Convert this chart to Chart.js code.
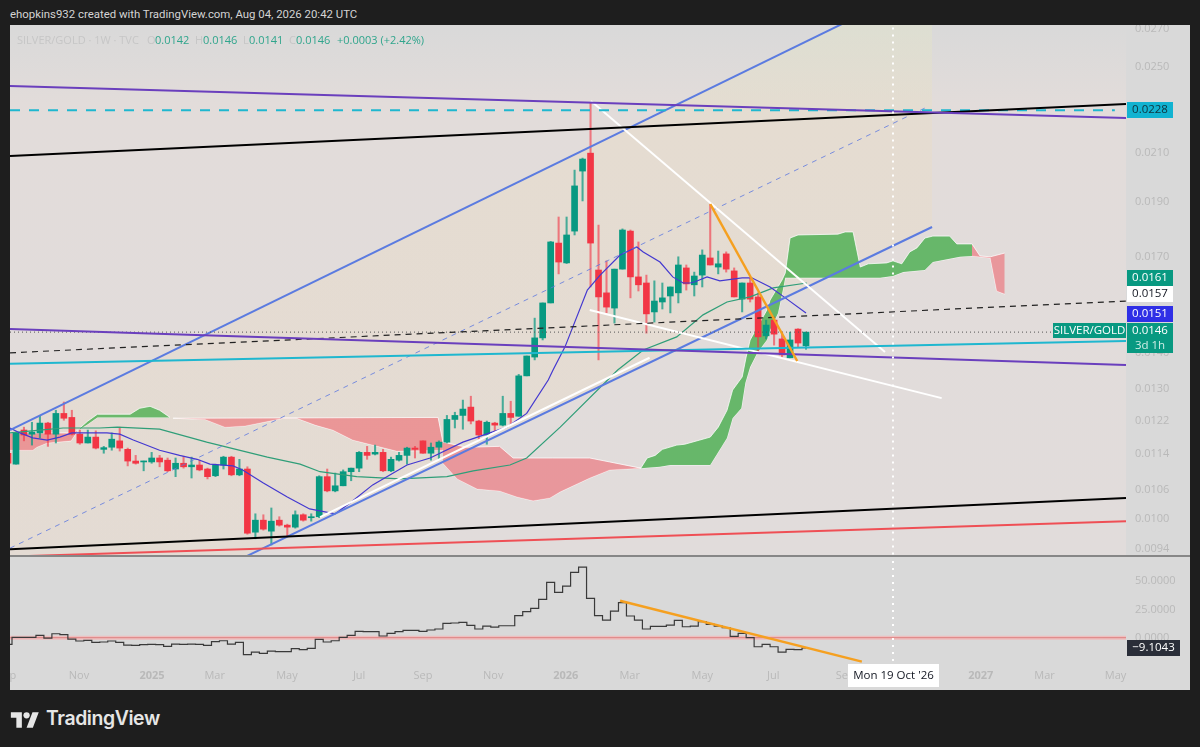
<!DOCTYPE html>
<html><head><meta charset="utf-8"><title>SILVER/GOLD</title>
<script src="https://cdn.jsdelivr.net/npm/chart.js@4"></script>
<style>
html,body{margin:0;padding:0;background:#1e1e1e;width:1200px;height:747px;overflow:hidden;font-family:"Open Sans",sans-serif}
#main{position:absolute;left:10px;top:25px;width:1180px;height:530px}
#pane{position:absolute;left:10px;top:557px;width:1180px;height:133px}
#sep{position:absolute;left:10px;top:555px;width:1180px;height:2px;background:#878787}
#head{position:absolute;left:10px;top:7px;font-size:11.4px;color:#d4d4d4;white-space:nowrap;font-family:Roboto,sans-serif}
.lg{position:absolute;top:32px;font-size:11px;white-space:nowrap;color:#c6c6c6}
.lg.v{color:#2fa58c}
#logo{position:absolute;left:10px;top:709px}
#brand{position:absolute;left:46px;top:706px;font-size:19.4px;font-weight:600;color:#e6e6e6;font-family:Inter,sans-serif;letter-spacing:-.4px}
</style></head><body>
<canvas id="main" width="1180" height="530"></canvas>
<div id="sep"></div>
<canvas id="pane" width="1180" height="133"></canvas>
<div id="head">ehopkins932 created with TradingView.com, Aug 04, 2026 20:42 UTC</div>
<span class="lg" style="left:17px">SILVER/GOLD · 1W · TVC</span>
<span class="lg" style="left:147px">O</span><span class="lg v" style="left:155px">0.0142</span>
<span class="lg" style="left:195px">H</span><span class="lg v" style="left:203px">0.0146</span>
<span class="lg" style="left:243px">L</span><span class="lg v" style="left:249px">0.0141</span>
<span class="lg" style="left:289px">C</span><span class="lg v" style="left:296px">0.0146</span>
<span class="lg v" style="left:337px">+0.0003 (+2.42%)</span>
<svg id="logo" width="30" height="22" viewBox="0 0 36 28"><path fill="#e6e6e6" d="M14 24H7V11H0V4h14zM28 24h-8l7.5-20h8z"/><circle cx="20" cy="8" r="4" fill="#e6e6e6"/></svg>
<div id="brand">TradingView</div>
<script>
// ---------- weekly candles, first entry is week -1 ----------
const opens=[0.01142,0.01117,0.01197,0.01187,0.01190,0.01214,0.01187,0.01238,0.01228,0.01187,0.01166,0.01180,0.01151,0.01156,0.01171,0.01151,0.01124,0.01122,0.01122,0.01131,0.01126,0.01106,0.01119,0.01111,0.01115,0.01106,0.01091,0.01115,0.01133,0.01093,0.01106,0.00973,0.00997,0.00975,0.00997,0.00987,0.00983,0.01008,0.01002,0.01004,0.01089,0.01058,0.01069,0.01100,0.01108,0.01144,0.01140,0.01144,0.01102,0.01126,0.01137,0.01154,0.01171,0.01142,0.01156,0.01168,0.01223,0.01233,0.01254,0.01219,0.01185,0.01214,0.01209,0.01238,0.01231,0.01336,0.01388,0.01443,0.01549,0.01749,0.01680,0.01792,0.02024,0.02099,0.01656,0.01581,0.01533,0.01659,0.01792,0.01633,0.01613,0.01521,0.01552,0.01571,0.01581,0.01663,0.01607,0.01639,0.01697,0.01666,0.01711,0.01653,0.01561,0.01613,0.01568,0.01449,0.01496,0.01440,0.01386,0.01469,0.01420];
const highs=[0.01145,0.01192,0.01204,0.01216,0.01233,0.01216,0.01246,0.01267,0.01246,0.01197,0.01197,0.01195,0.01158,0.01190,0.01204,0.01154,0.01137,0.01124,0.01144,0.01137,0.01131,0.01131,0.01135,0.01133,0.01126,0.01108,0.01117,0.01135,0.01135,0.01128,0.01111,0.01010,0.01008,0.01022,0.01004,0.00989,0.01016,0.01010,0.01010,0.01091,0.01106,0.01097,0.01104,0.01108,0.01146,0.01158,0.01161,0.01151,0.01133,0.01144,0.01156,0.01158,0.01171,0.01166,0.01171,0.01233,0.01241,0.01272,0.01282,0.01221,0.01219,0.01216,0.01282,0.01269,0.01340,0.01391,0.01502,0.01549,0.01755,0.01844,0.01844,0.02028,0.02078,0.02327,0.01814,0.01687,0.01659,0.01800,0.01796,0.01753,0.01639,0.01620,0.01613,0.01600,0.01701,0.01673,0.01649,0.01725,0.01893,0.01721,0.01718,0.01663,0.01613,0.01630,0.01581,0.01496,0.01505,0.01460,0.01460,0.01470,0.01460];
const lows=[0.01117,0.01117,0.01171,0.01161,0.01178,0.01158,0.01166,0.01221,0.01185,0.01163,0.01166,0.01152,0.01142,0.01149,0.01147,0.01113,0.01117,0.01102,0.01119,0.01111,0.01100,0.01089,0.01108,0.01086,0.01102,0.01084,0.01089,0.01106,0.01091,0.01091,0.00969,0.00960,0.00977,0.00948,0.00985,0.00964,0.00981,0.00995,0.00995,0.01002,0.01056,0.01056,0.01069,0.01080,0.01100,0.01128,0.01138,0.01100,0.01100,0.01124,0.01117,0.01131,0.01142,0.01126,0.01128,0.01166,0.01202,0.01199,0.01212,0.01175,0.01163,0.01195,0.01207,0.01212,0.01231,0.01336,0.01380,0.01437,0.01549,0.01643,0.01678,0.01778,0.01905,0.01600,0.01380,0.01518,0.01487,0.01659,0.01565,0.01587,0.01457,0.01490,0.01530,0.01518,0.01549,0.01590,0.01571,0.01600,0.01673,0.01643,0.01649,0.01568,0.01521,0.01552,0.01400,0.01440,0.01422,0.01388,0.01386,0.01417,0.01410];
const closes=[0.01119,0.01190,0.01185,0.01192,0.01214,0.01187,0.01238,0.01226,0.01187,0.01166,0.01180,0.01154,0.01155,0.01175,0.01154,0.01124,0.01119,0.01124,0.01131,0.01122,0.01102,0.01119,0.01111,0.01115,0.01104,0.01089,0.01115,0.01133,0.01093,0.01106,0.00971,0.00997,0.00979,0.00995,0.00987,0.00983,0.01008,0.00997,0.01004,0.01089,0.01058,0.01069,0.01100,0.01108,0.01144,0.01137,0.01144,0.01102,0.01128,0.01137,0.01154,0.01151,0.01142,0.01156,0.01168,0.01223,0.01233,0.01249,0.01219,0.01185,0.01216,0.01209,0.01238,0.01228,0.01336,0.01391,0.01443,0.01549,0.01753,0.01683,0.01778,0.01964,0.02074,0.01749,0.01568,0.01536,0.01659,0.01796,0.01633,0.01607,0.01515,0.01555,0.01565,0.01600,0.01673,0.01610,0.01636,0.01707,0.01673,0.01677,0.01659,0.01568,0.01613,0.01561,0.01446,0.01481,0.01454,0.01394,0.01437,0.01428,0.01460];
const momentum=[-5.9,0.3,0.3,0.3,2.1,-0.3,3.5,2.7,-1.2,-2.9,-2.4,-4.1,-3.8,-2.9,-4.1,-6.5,-6.8,-6.2,-5.9,-6.2,-7.7,-5.6,-5.9,-5.6,-5.9,-6.8,-3.5,-2.7,-5.6,-4.1,-15,-12.7,-13.9,-11.8,-12.4,-12.4,-9.7,-10.6,-9.4,-1.5,-3.8,-2.7,0.3,2.1,5.6,5.3,5.3,1.5,3.8,5.3,6.5,6.5,5.6,6.8,7.7,12.7,13,13.6,10.9,7.7,10.3,9.4,10.6,10.6,19.5,23,26,33.9,49,40.1,45.7,57.8,62.5,34.8,19.5,15.6,23.6,31,19.2,15.6,7.7,10,10,11.2,15.3,9.7,10.3,14.2,11.8,10.3,8.8,1.2,3.8,0,-8,-5.9,-8,-12.7,-10.3,-10.6,-9.1043];
const weeks=opens.map((_,k)=>k-1);

// ---------- moving averages ----------
const maFastX=[-0.75,0.5,2.1,3.9,5.5,7,8.9,11.4,13,14.7,18,20.5,22.7,24.3,27.2,28.4,31,34,36.8,40,41.9,44.7,49,51.9,56,61.5,64,66.7,67.3,68.8,71.6,73.2,75.7,77.8,78.6,80.7,82.3,83.6,84.5,85.1,86.6,88.2,91,92.2,94.5,96.4,99];
const maFastY=[0.01202,0.0119,0.01178,0.01173,0.0118,0.0119,0.0119,0.0119,0.01187,0.01173,0.01149,0.01137,0.01128,0.01117,0.01113,0.01104,0.01075,0.01045,0.0102,0.0101,0.01033,0.01071,0.01115,0.01131,0.01168,0.01204,0.01238,0.01325,0.01352,0.01417,0.0159,0.01639,0.01707,0.01735,0.01718,0.01683,0.01633,0.01613,0.01613,0.01617,0.01633,0.0162,0.0163,0.0163,0.016,0.01565,0.01518];
const maSlowX=[-0.75,3,5.9,10.5,12.7,18,23.9,31.5,35.6,38.1,42.7,48.1,54,57.3,61.9,64,68.2,75.4,78.6,82.8,86.1,89.1,92,94.9,99.1];
const maSlowY=[0.0119,0.01197,0.01202,0.01202,0.01204,0.01199,0.01168,0.01133,0.01117,0.011,0.01089,0.01084,0.01089,0.01102,0.01115,0.01131,0.01204,0.01352,0.01408,0.01446,0.01512,0.01552,0.01568,0.01597,0.01613];

// ---------- cloud spans ----------
const red1TopX=[-0.75,7,7.8], red1TopY=[0.0119,0.0119,0.01197];
const red1BotX=[-0.75,2.1,2.6,3.9,6.9,7.8], red1BotY=[0.01149,0.01149,0.01156,0.01166,0.01171,0.01197];
const green1TopX=[8,9,10.2,14.3,15.5,16.8,18,19.3], green1TopY=[0.01202,0.01219,0.01236,0.01236,0.01251,0.01256,0.01246,0.01228];
const green1BotX=[8,9,10.2,19.3], green1BotY=[0.01199,0.01211,0.01228,0.01228];
const red2TopX=[19.7,52.9,53.5], red2TopY=[0.01226,0.01228,0.01168];
const red2BotX=[19.7,23.7,26.2,28.7,31.8,33.5,35.2,37.5,39.7,42.2,47.7,53.5], red2BotY=[0.01226,0.01223,0.01204,0.01207,0.01219,0.01226,0.01226,0.01209,0.01197,0.01173,0.01147,0.01149];
const red3TopX=[53.5,56.5,60.6,62.3,67.2,71.9,74.4,78.3], red3TopY=[0.01168,0.01156,0.01158,0.01131,0.01131,0.01131,0.01122,0.01108];
const red3BotX=[53.5,55.3,57.8,60.6,62.8,64.8,66.9,68.2,71.9,74.4,78.3], red3BotY=[0.01119,0.01084,0.01062,0.01058,0.01045,0.01037,0.01043,0.01056,0.01086,0.01104,0.01108];
const green2TopX=[78.3,79.1,80.1,81,82.8,83.8,85.7,87,88,89.1,89.8,91,91.5,92,94.1,94.5,96,96.4,97,98,103,103.9,104.9,105.8,106.8,109.1,109.9,111,112,112.9,113.9,114.9,117,117.9,119.8];
const green2TopY=[0.01108,0.01131,0.01137,0.01151,0.01161,0.01163,0.01173,0.0118,0.01204,0.01246,0.01298,0.01333,0.01388,0.01437,0.01527,0.01558,0.01623,0.01646,0.01767,0.01778,0.01781,0.01789,0.01789,0.01666,0.01677,0.0168,0.01687,0.01677,0.01718,0.01732,0.01767,0.01774,0.01774,0.01746,0.01746];
const green2BotX=[78.3,80.7,82,87,89.1,89.8,90.9,91.4,92,92.9,94.1,94.5,95.5,96.1,96.4,108.3,109.9,111.2,113.9,114.9,118.3,119.8];
const green2BotY=[0.01108,0.01111,0.01115,0.01115,0.01178,0.01226,0.01251,0.01317,0.0136,0.014,0.01437,0.01466,0.01518,0.0159,0.0163,0.0163,0.01636,0.01649,0.01656,0.01683,0.01701,0.01704];
const red4TopX=[119.8,120.8,122.1,123.9], red4TopY=[0.01746,0.01704,0.01701,0.01714];
const red4BotX=[119.8,122.1,122.9,123.9], red4BotY=[0.01704,0.01697,0.01587,0.01577];

// ---------- drawn trend lines: [x0,x1] in weeks, [y0,y1] in price ----------
const channelTopX=[-0.75,114.8], channelTopY=[0.01197,0.02982];
const channelMidX=[-0.75,113.9], channelMidY=[0.00942,0.023];
const channelBotX=[-0.75,114.8], channelBotY=[0.00736,0.01807];
const purpleHiX=[-0.75,139.1], purpleHiY=[0.02405,0.02254];
const purpleLoX=[-0.75,139.1], purpleLoY=[0.01469,0.01366];
const blackHiX=[-0.75,139.1], blackHiY=[0.02087,0.02319];
const blackLoX=[-0.75,139.1], blackLoY=[0.0094,0.01043];
const redLoX=[-0.75,139.1], redLoY=[0.00926,0.00995];
const cyanX=[-0.75,139.1], cyanY=[0.01369,0.01434];
const cyanDashX=[-0.75,137.7], cyanDashY=[0.0229,0.0229];
const blackDashX=[-0.75,139.1], blackDashY=[0.014,0.01555];
const lastPriceX=[-0.75,139.1], lastPriceY=[0.0146,0.0146];
const whiteAX=[72.05,108.9], whiteAY=[0.02333,0.01402];
const whiteBX=[71.9,116], whiteBY=[0.01527,0.01277];
const whiteCX=[38.1,79.4], whiteCY=[0.01003,0.01386];
const orangeX=[87,97.9], orangeY=[0.01893,0.01377];
const crossX=[109.9,109.9], crossMainY=[0.0093,0.0272], crossPaneY=[-26.8,71.4];
const paneTrendX=[75.7,106], paneTrendY=[32.7,-21.2];
const zeroX=[-0.75,139.1], zeroY=[0,0];

// ---------- axes ----------
const priceTicks=[0.0094,0.01,0.0106,0.0114,0.0122,0.013,0.014,0.017,0.019,0.021,0.025,0.027];
const paneTicks=[0,25,50];
const timeTicks=[-0.38,7.9,17.04,24.9,33.96,43,51,59.8,68.9,76.9,86,94.9,103.9,120.9,128.9,137.8];
const timeLabels=['p','Nov','2025','Mar','May','Jul','Sep','Nov','2026','Mar','May','Jul','Sep','2027','Mar','May'];
const xMin=-0.75,xMax=139.1;
const priceMin=0.00929,priceMax=0.02722,paneMin=-26.8,paneMax=71.4;

const green='#089981',red='#f23645';
const xy=(xs,ys)=>xs.map((x,k)=>({x,y:ys[k]}));
const line=(xs,ys,color,width,order,extra={})=>Object.assign({type:'line',data:xy(xs,ys),borderColor:color,borderWidth:width,pointRadius:0,tension:0,fill:false,order},extra);
const cloud=(tx,ty,bx,by,color)=>[
  line(tx,ty,'rgba(255,255,255,.75)',1,60,{fill:'+1',backgroundColor:color}),
  line(bx,by,'rgba(255,255,255,.75)',1,60)];

const mainCtx=document.getElementById('main').getContext('2d');
const channelFill=mainCtx.createLinearGradient(0,0,0,530);
channelFill.addColorStop(0,'rgba(224,226,205,.6)');
channelFill.addColorStop(0.2,'rgba(232,220,200,.5)');
channelFill.addColorStop(1,'rgba(230,218,204,.5)');

const bgPlugin={id:'bg',beforeDraw(c){
  const {ctx,chartArea:a}=c;
  ctx.save();
  const g=ctx.createLinearGradient(0,a.top,0,a.bottom);
  g.addColorStop(0,'#d9d9d9');g.addColorStop(0.15,'#e2dcda');g.addColorStop(1,'#e1dcdb');
  ctx.fillStyle=g;ctx.fillRect(a.left,a.top,a.right-a.left,a.bottom-a.top);
  ctx.restore();
}};
const flatBg={id:'flatBg',beforeDraw(c){c.ctx.save();c.ctx.fillStyle='#d9d9d9';c.ctx.fillRect(0,0,c.width,c.height);c.ctx.restore();}};

// [text, background, colour, left, top, right, bottom] in page pixels
const mainTags=[
 ['0.0228','#12b3d1','#10323c',1127,102,1173,118],
 ['0.0161','#089981','#ffffff',1127,270,1173,286],
 ['0.0157','#ffffff','#131722',1127,286,1173,302],
 ['0.0151','#2f2fe6','#ffffff',1127,306,1173,322],
 ['SILVER/GOLD','#089981','#ffffff',1053,323,1126,338],
 ['0.0146','#089981','#ffffff',1127,323,1173,338],
 ['3d 1h','#089981','#cfeee6',1127,338,1173,353]];
const paneTags=[
 ['−9.1043','#2a2e39','#ffffff',1127,640,1180,656],
 ["Mon 19 Oct '26",'#ffffff','#131722',848,664,939,687]];
const tagPlugin=(tags,ox,oy)=>({id:'tags',afterDraw(c){
  const ctx=c.ctx;ctx.save();
  ctx.font='11.5px "Open Sans"';ctx.textBaseline='middle';ctx.textAlign='center';
  tags.forEach(([t,bg,fg,l,tp,r,b])=>{
    ctx.fillStyle=bg;ctx.fillRect(l-ox,tp-oy,r-l,b-tp);
    ctx.fillStyle=fg;ctx.fillText(t,(l+r)/2-ox,(tp+b)/2-oy);
  });
  ctx.restore();
}});

const base={responsive:false,animation:false,devicePixelRatio:1,events:[],layout:{padding:0},plugins:{legend:{display:false},tooltip:{enabled:false},title:{display:false}}};
const tickFont={family:'"Open Sans"',size:11};
const noGrid={display:false,drawTicks:false};
const fitY=s=>{s.width=64;s.paddingTop=0;s.paddingBottom=0;};

const candleColors=opens.map((o,k)=>closes[k]>=o?green:red);
const wickColors=opens.map((o,k)=>closes[k]>=o?'rgba(8,153,129,.72)':'rgba(242,54,69,.62)');

new Chart(mainCtx,{type:'bar',data:{datasets:[
  line(channelTopX,channelTopY,'rgba(0,0,0,0)',0,95,{fill:'+1',backgroundColor:channelFill}),
  line(channelBotX,channelBotY,'#5b7be0',2,20),
  line(channelTopX,channelTopY,'#5b7be0',2,20),
  line(channelMidX,channelMidY,'rgba(92,120,224,.8)',1,20,{borderDash:[5,5]}),
  ...cloud(red1TopX,red1TopY,red1BotX,red1BotY,'rgba(242,54,69,.42)'),
  ...cloud(green1TopX,green1TopY,green1BotX,green1BotY,'rgba(76,175,80,.8)'),
  ...cloud(red2TopX,red2TopY,red2BotX,red2BotY,'rgba(242,54,69,.42)'),
  ...cloud(red3TopX,red3TopY,red3BotX,red3BotY,'rgba(242,54,69,.42)'),
  ...cloud(green2TopX,green2TopY,green2BotX,green2BotY,'rgba(76,175,80,.82)'),
  ...cloud(red4TopX,red4TopY,red4BotX,red4BotY,'rgba(242,54,69,.42)'),
  {type:'bar',data:weeks.map((x,k)=>({x,y:[lows[k],highs[k]]})),backgroundColor:wickColors,grouped:false,maxBarThickness:1.4,barPercentage:1,categoryPercentage:1,order:50},
  {type:'bar',data:weeks.map((x,k)=>({x,y:[opens[k],closes[k]]})),backgroundColor:candleColors,grouped:false,maxBarThickness:6,barPercentage:1,categoryPercentage:1,minBarLength:1,order:40},
  line(maFastX,maFastY,'#4338d0',1.2,30),
  line(maSlowX,maSlowY,'#2f9e78',1.2,30),
  line(purpleHiX,purpleHiY,'#6a3fbd',2,15),
  line(purpleLoX,purpleLoY,'#6a3fbd',2,14),
  line(blackHiX,blackHiY,'#000000',2,15),
  line(blackLoX,blackLoY,'#000000',2,15),
  line(redLoX,redLoY,'#ef4f55',2,15),
  line(cyanX,cyanY,'#1fb7cf',2,16),
  line(cyanDashX,cyanDashY,'#1fb7cf',2,16,{borderDash:[10,9]}),
  line(blackDashX,blackDashY,'#222222',1.2,16,{borderDash:[6,5]}),
  line(lastPriceX,lastPriceY,'#555555',1,17,{borderDash:[1,3]}),
  line(whiteAX,whiteAY,'#ffffff',2,18),
  line(whiteBX,whiteBY,'#ffffff',2,18),
  line(whiteCX,whiteCY,'#ffffff',2,22),
  line(orangeX,orangeY,'#f5a020',2.4,12),
  line(crossX,crossMainY,'#ffffff',2,11,{borderDash:[2,5]})
]},options:{...base,scales:{
  x:{type:'linear',display:false,min:xMin,max:xMax,offset:false,grid:noGrid},
  y:{type:'logarithmic',position:'right',min:priceMin,max:priceMax,grid:noGrid,border:{display:false},
     afterBuildTicks(s){s.ticks=priceTicks.map(value=>({value}));},afterFit:fitY,
     ticks:{autoSkip:false,padding:9,color:'#b9b9b9',font:tickFont,callback:v=>Number(v).toFixed(4)}}
}},plugins:[flatBg,bgPlugin,tagPlugin(mainTags,10,25)]});

new Chart(document.getElementById('pane').getContext('2d'),{type:'line',data:{datasets:[
  line(zeroX,zeroY,'rgba(255,170,170,.55)',4,30),
  line(zeroX,zeroY,'#dd8080',1,29),
  line(weeks,momentum,'#3a3a3a',1.2,20,{stepped:'middle'}),
  line(paneTrendX,paneTrendY,'#f5a020',2.4,10),
  line(crossX,crossPaneY,'#ffffff',2,11,{borderDash:[2,5]})
]},options:{...base,scales:{
  x:{type:'linear',min:xMin,max:xMax,offset:false,grid:noGrid,border:{display:false},
     afterBuildTicks(s){s.ticks=timeTicks.map(value=>({value}));},
     afterFit(s){s.height=22;s.paddingLeft=0;s.paddingRight=0;},
     ticks:{autoSkip:false,maxRotation:0,minRotation:0,padding:1,color:'#b9b9b9',
       font:c=>({family:'"Open Sans"',size:11,weight:/^\d{4}$/.test(c.tick&&c.tick.label)?'700':'400'}),
       callback:v=>timeLabels[timeTicks.indexOf(v)]}},
  y:{type:'linear',position:'right',min:paneMin,max:paneMax,grid:noGrid,border:{display:false},
     afterBuildTicks(s){s.ticks=paneTicks.map(value=>({value}));},afterFit:fitY,
     ticks:{autoSkip:false,padding:9,color:'#b9b9b9',font:tickFont,callback:v=>Number(v).toFixed(4)}}
}},plugins:[flatBg,tagPlugin(paneTags,10,557)]});
</script>
</body></html>
